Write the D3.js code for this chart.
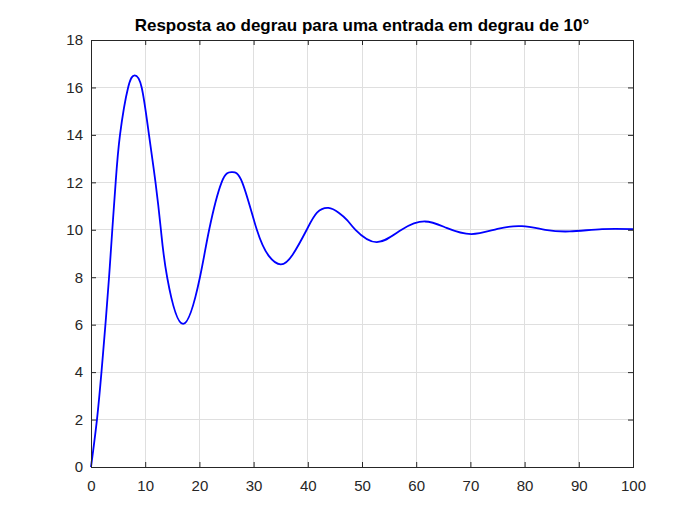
<!DOCTYPE html>
<html>
<head>
<meta charset="utf-8">
<script src="https://cdn.jsdelivr.net/npm/d3@7"></script>
<style>
  body { margin: 0; background: #fff; }
  svg { display: block; }
</style>
</head>
<body>
<svg id="chart"></svg>
<script>
// values
const time = [0, 1.1, 1.93, 2.66, 3.33, 3.93, 4.55, 5.35, 6.85, 8.06, 9.35, 10.7, 11.9, 12.9,
  14.05, 17.0, 20.1, 21.8, 24.1, 25.95, 27.9, 30.6, 32.8, 35.0, 37.2, 39.8,
  41.7, 43.8, 45.7, 47.3, 48.8, 52.7, 57.3, 61.6, 65.6, 70.2,
  75.0, 79.5, 83.8, 88.3, 94.3, 100];
const response = [0, 2, 4, 6, 8, 10, 12, 14, 16, 16.51, 16, 14, 12, 10,
  8, 6.03, 8, 10, 12, 12.43, 12, 10, 8.9, 8.54, 8.95, 10,
  10.72, 10.92, 10.72, 10.4, 10, 9.48, 10, 10.35, 10.08, 9.82,
  10.04, 10.15, 10.0, 9.93, 10.03, 10.03];
const xTicks = [0, 10, 20, 30, 40, 50, 60, 70, 80, 90, 100];
const yTicks = [0, 2, 4, 6, 8, 10, 12, 14, 16, 18];
const title = "Resposta ao degrau para uma entrada em degrau de 10°";

const W = 700, H = 525;
const margin = { top: 40, right: 67, bottom: 58, left: 91 };
const width = W - margin.left - margin.right;
const height = H - margin.top - margin.bottom;

const svg = d3.select("#chart").attr("width", W).attr("height", H);
const font = "Arial, 'Liberation Sans', Helvetica, sans-serif";
const axisColor = "#262626";

const g = svg.append("g").attr("transform", `translate(${margin.left},${margin.top})`);

const x = d3.scaleLinear().domain([0, 100]).range([0, width]);
const y = d3.scaleLinear().domain([0, 18]).range([height, 0]);

// grid
g.append("g").selectAll("line.gx")
  .data(xTicks.slice(1, -1))
  .enter().append("line")
  .attr("x1", d => x(d)).attr("x2", d => x(d))
  .attr("y1", 0).attr("y2", height)
  .attr("stroke", "#dfdfdf").attr("stroke-width", 1)
  .attr("shape-rendering", "crispEdges");
g.append("g").selectAll("line.gy")
  .data(yTicks.slice(1, -1))
  .enter().append("line")
  .attr("x1", 0).attr("x2", width)
  .attr("y1", d => y(d)).attr("y2", d => y(d))
  .attr("stroke", "#dfdfdf").attr("stroke-width", 1)
  .attr("shape-rendering", "crispEdges");

// response curve
const pts = time.map((t, i) => [t, response[i]]);
const line = d3.line()
  .x(d => x(d[0]))
  .y(d => y(d[1]))
  .curve(d3.curveNatural);

g.append("path")
  .datum(pts)
  .attr("fill", "none")
  .attr("stroke", "#0000ff")
  .attr("stroke-width", 1.8)
  .attr("d", line);

// axes (MATLAB style: ticks inside, box on)
const styleAxis = sel => {
  sel.select(".domain").remove();
  sel.selectAll(".tick line").attr("stroke", axisColor);
  sel.selectAll("text").attr("fill", axisColor)
    .style("font-family", font).style("font-size", "15px");
};

g.append("g")
  .attr("transform", `translate(0,${height})`)
  .call(d3.axisBottom(x).tickValues(xTicks).tickSize(-5).tickPadding(13))
  .call(styleAxis);
g.append("g")
  .call(d3.axisLeft(y).tickValues(yTicks).tickSize(-5).tickPadding(8))
  .call(styleAxis);
g.append("g")
  .call(d3.axisTop(x).tickValues(xTicks).tickSize(-5).tickFormat(""))
  .call(styleAxis);
g.append("g")
  .attr("transform", `translate(${width},0)`)
  .call(d3.axisRight(y).tickValues(yTicks).tickSize(-5).tickFormat(""))
  .call(styleAxis);

g.append("rect")
  .attr("width", width).attr("height", height)
  .attr("fill", "none")
  .attr("stroke", axisColor)
  .attr("stroke-width", 1)
  .attr("shape-rendering", "crispEdges");

svg.append("text")
  .attr("x", margin.left + width / 2)
  .attr("y", 31)
  .attr("text-anchor", "middle")
  .attr("fill", "#000")
  .style("font-family", font)
  .style("font-size", "17px")
  .style("font-weight", "bold")
  .text(title);
</script>
</body>
</html>
